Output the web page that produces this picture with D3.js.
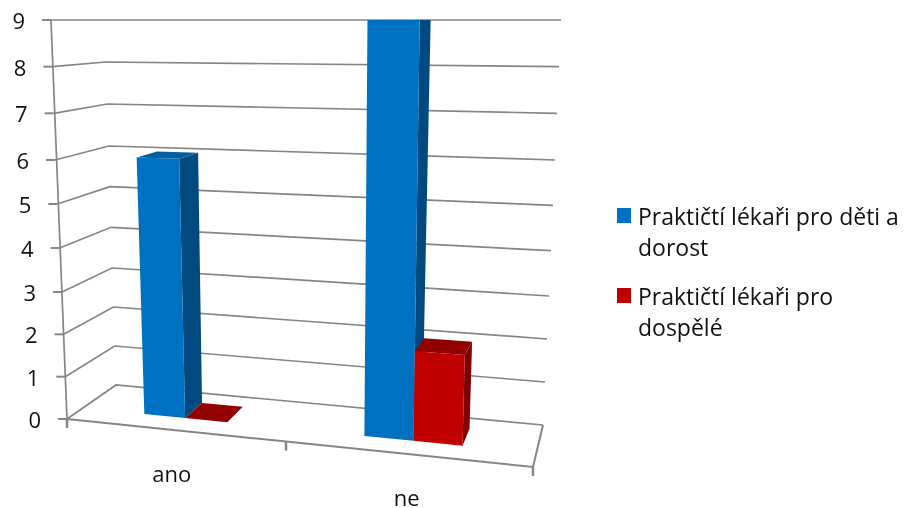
<!DOCTYPE html>
<html>
<head>
<meta charset="utf-8">
<script src="https://cdn.jsdelivr.net/npm/d3@7"></script>
<style>
html, body { margin: 0; padding: 0; background: #fff; }
svg { display: block; filter: blur(0.4px); }
text { font-family: "Open Sans", sans-serif; fill: #111; }
</style>
</head>
<body>
<div id="chart"></div>
<script>
const categories = ["ano", "ne"];
const childDoctors = [6, 9];
const adultDoctors = [0, 2];
const seriesNames = ["Praktičtí lékaři pro děti a dorost", "Praktičtí lékaři pro dospělé"];
const valueTicks = [0, 1, 2, 3, 4, 5, 6, 7, 8, 9];

const width = 905, height = 508;

const svg = d3.select("#chart")
    .append("svg")
    .attr("width", width)
    .attr("height", height);

// the four upright edges of the 3d box, value -> pixel
const knots = [0, 3, 6, 9];
const edge = (xs, ys) => ({
    x: d3.scaleLinear().domain(knots).range(xs),
    y: d3.scaleLinear().domain(knots).range(ys)
});
const frontLeft = edge([67, 62, 55, 51], [419, 292, 160, 20]);
const backLeft = edge([116, 112, 109, 104], [385, 268, 146, 20]);
const frontRight = edge([533, 537, 541, 545], [467, 324, 176, 20]);
const backRight = edge([543, 549, 555, 561], [425, 296, 160, 20]);

function project(u, d, v) {
    const lx = d3.interpolate(frontLeft.x(v), backLeft.x(v))(d),
          ly = d3.interpolate(frontLeft.y(v), backLeft.y(v))(d),
          rx = d3.interpolate(frontRight.x(v), backRight.x(v))(d),
          ry = d3.interpolate(frontRight.y(v), backRight.y(v))(d);
    return [lx + (rx - lx) * u, ly + (ry - ly) * u];
}

// category axis, squeezed a bit by the perspective
const xBand = d3.scaleBand().domain(categories).range([0, 1]);
const xWarp = d3.scaleLinear().domain([0, 0.25, 0.5, 1]).range([0, 0.225, 0.458, 1]);
const axisTicks = [0, 0.47, 1];
const barWidth = 0.1;
const depthFront = 0.33, depthBack = 0.75;

const line = d3.line();
const gridColor = "#858585";

function polyline(points, w) {
    svg.append("path")
        .attr("d", line(points))
        .attr("fill", "none")
        .attr("stroke", gridColor)
        .attr("stroke-width", w || 1.7);
}

// gridlines along wall and back
valueTicks.forEach(function (v) {
    polyline([project(0, 0, v), project(0, 1, v), project(1, 1, v)]);

    const p = project(0, 0, v);
    polyline([[p[0] - 9, p[1]], p], 2);

    svg.append("text")
        .attr("x", p[0] - 26)
        .attr("y", p[1] + 2)
        .attr("dy", "0.32em")
        .attr("text-anchor", "end")
        .style("font-size", "22px")
        .text(v);
});

// value axis and floor
polyline([project(0, 0, 0), project(0, 0, 9)]);
polyline([project(0, 0, 0), project(1, 0, 0), project(1, 1, 0)], 2);

axisTicks.forEach(function (t) {
    const p = project(t, 0, 0);
    polyline([p, [p[0], p[1] + 9]], 2.5);
});

function drawBar(u0, u1, value, colors) {
    const face = function (points, fill) {
        svg.append("path")
            .attr("d", line(points) + "Z")
            .attr("fill", fill);
    };
    face([project(u1, depthFront, 0), project(u1, depthBack, 0),
          project(u1, depthBack, value), project(u1, depthFront, value)], colors.side);
    face([project(u0, depthFront, value), project(u1, depthFront, value),
          project(u1, depthBack, value), project(u0, depthBack, value)], colors.top);
    face([project(u0, depthFront, 0), project(u1, depthFront, 0),
          project(u1, depthFront, value), project(u0, depthFront, value)], colors.front);
}

const blue = {front: "#0070c0", side: "#004a80", top: "#015f9f"};
const red = {front: "#c00000", side: "#800000", top: "#930000"};

categories.forEach(function (cat, i) {
    const center = xBand(cat) + xBand.bandwidth() / 2;

    drawBar(xWarp(center - barWidth), xWarp(center), childDoctors[i], blue);
    drawBar(xWarp(center), xWarp(center + barWidth), adultDoctors[i], red);

    const p = project(xWarp(center), 0, 0);
    svg.append("text")
        .attr("x", p[0])
        .attr("y", p[1] + 45)
        .attr("dy", "0.32em")
        .attr("text-anchor", "middle")
        .style("font-size", "22px")
        .text(cat);
});

// legend
const legendRows = [
    {name: seriesNames[0], color: blue.front, lines: ["Praktičtí lékaři pro děti a", "dorost"], y: 218},
    {name: seriesNames[1], color: red.front, lines: ["Praktičtí lékaři pro", "dospělé"], y: 298}
];

legendRows.forEach(function (row) {
    svg.append("rect")
        .attr("x", 617)
        .attr("y", row.y - 10)
        .attr("width", 14)
        .attr("height", 15)
        .attr("fill", row.color);

    row.lines.forEach(function (txt, k) {
        svg.append("text")
            .attr("x", 638)
            .attr("y", row.y + k * 31)
            .attr("dy", "0.32em")
            .style("font-size", "23px")
            .text(txt);
    });
});
</script>
</body>
</html>
